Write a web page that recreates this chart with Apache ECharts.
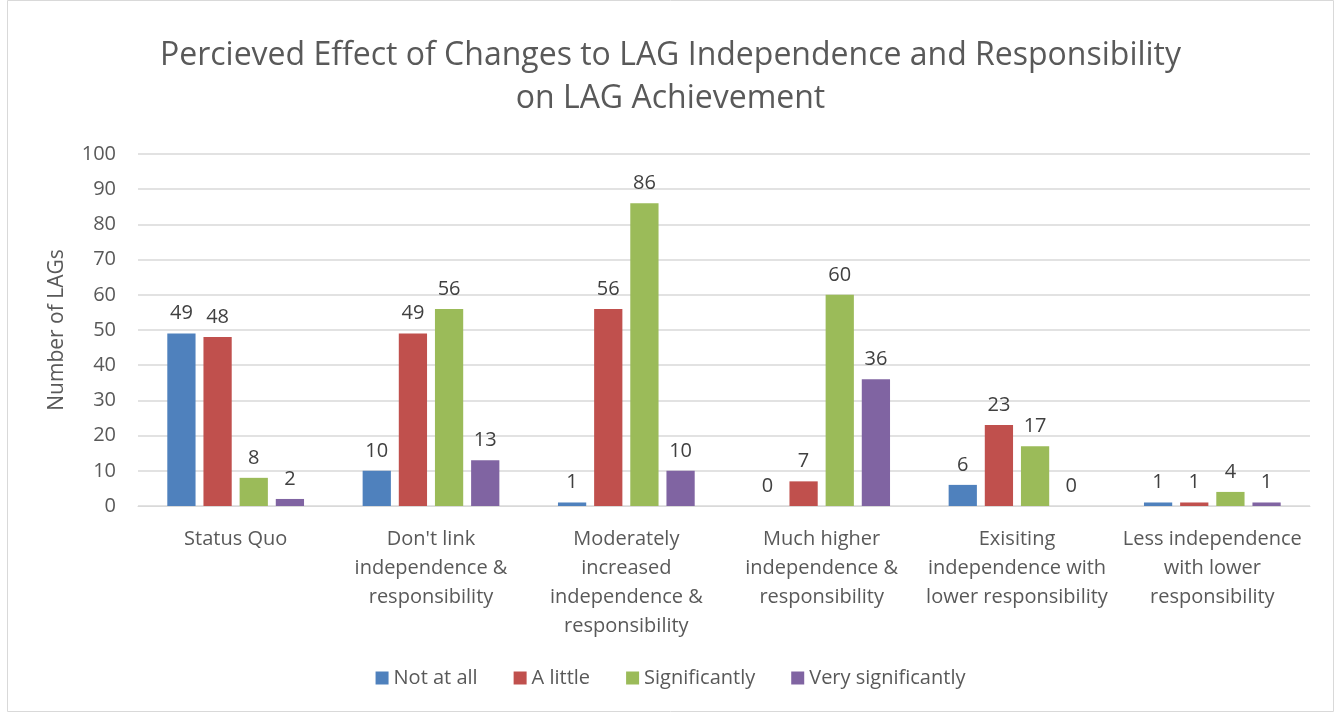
<!DOCTYPE html>
<html><head><meta charset="utf-8">
<script src="https://cdn.jsdelivr.net/npm/echarts@6/dist/echarts.min.js"></script>
<style>html,body{margin:0;padding:0;background:#fff}#c{width:1341px;height:713px}</style>
</head><body><div id="c"></div>
<script>
const categories = [
  "Status Quo",
  "Don't link\nindependence &\nresponsibility",
  "Moderately\nincreased\nindependence &\nresponsibility",
  "Much higher\nindependence &\nresponsibility",
  "Exisiting\nindependence with\nlower responsibility",
  "Less independence\nwith lower\nresponsibility"
];
const seriesNames = ["Not at all", "A little", "Significantly", "Very significantly"];
const notAtAll = [49, 10, 1, 0, 6, 1];
const aLittle = [48, 49, 56, 7, 23, 1];
const significantly = [8, 56, 86, 60, 17, 4];
const verySignificantly = [2, 13, 10, 36, 0, 1];
const colors = ["#4F81BD", "#C0504D", "#9BBB59", "#8064A2"];
const values = [notAtAll, aLittle, significantly, verySignificantly];
const font = "Open Sans, Liberation Sans, sans-serif";
const chart = echarts.init(document.getElementById('c'));
chart.setOption({
  animation: false,
  textStyle: {fontFamily: font},
  graphic: [{type: 'rect', shape: {x: 7.5, y: 0.5, width: 1326, height: 711}, style: {fill: 'none', stroke: '#D9D9D9', lineWidth: 1}, silent: true}],
  title: {
    text: "Percieved Effect of Changes to LAG Independence and Responsibility\non LAG Achievement",
    left: 'center', top: 29,
    textStyle: {fontFamily: font, fontSize: 32, fontWeight: 'normal', color: '#595959', lineHeight: 43}
  },
  legend: {
    data: seriesNames, bottom: 20, left: 'center', itemWidth: 13, itemHeight: 13, itemGap: 36,
    icon: 'rect', textStyle: {fontFamily: font, fontSize: 20, color: '#595959'}
  },
  grid: {left: 138, right: 31, top: 154, bottom: 207},
  xAxis: {
    type: 'category', data: categories,
    axisLine: {lineStyle: {color: '#D9D9D9'}}, axisTick: {show: false},
    axisLabel: {fontFamily: font, fontSize: 20, color: '#595959', lineHeight: 29, margin: 19, interval: 0}
  },
  yAxis: {
    type: 'value', min: 0, max: 100, interval: 10,
    name: "Number of LAGs", nameLocation: 'middle', nameGap: 70,
    nameTextStyle: {fontFamily: font, fontSize: 21, color: '#595959'},
    axisLine: {show: false}, axisTick: {show: false},
    axisLabel: {fontFamily: font, fontSize: 20, color: '#595959', margin: 22},
    splitLine: {lineStyle: {color: '#D9D9D9', width: 1.5}}
  },
  series: values.map((v, i) => ({
    name: seriesNames[i], type: 'bar', data: v,
    barGap: '28%', barCategoryGap: '30%',
    itemStyle: {color: colors[i]},
    label: {show: true, position: 'top', distance: 10, fontFamily: font, fontSize: 20, color: '#404040'}
  }))
});
</script></body></html>
